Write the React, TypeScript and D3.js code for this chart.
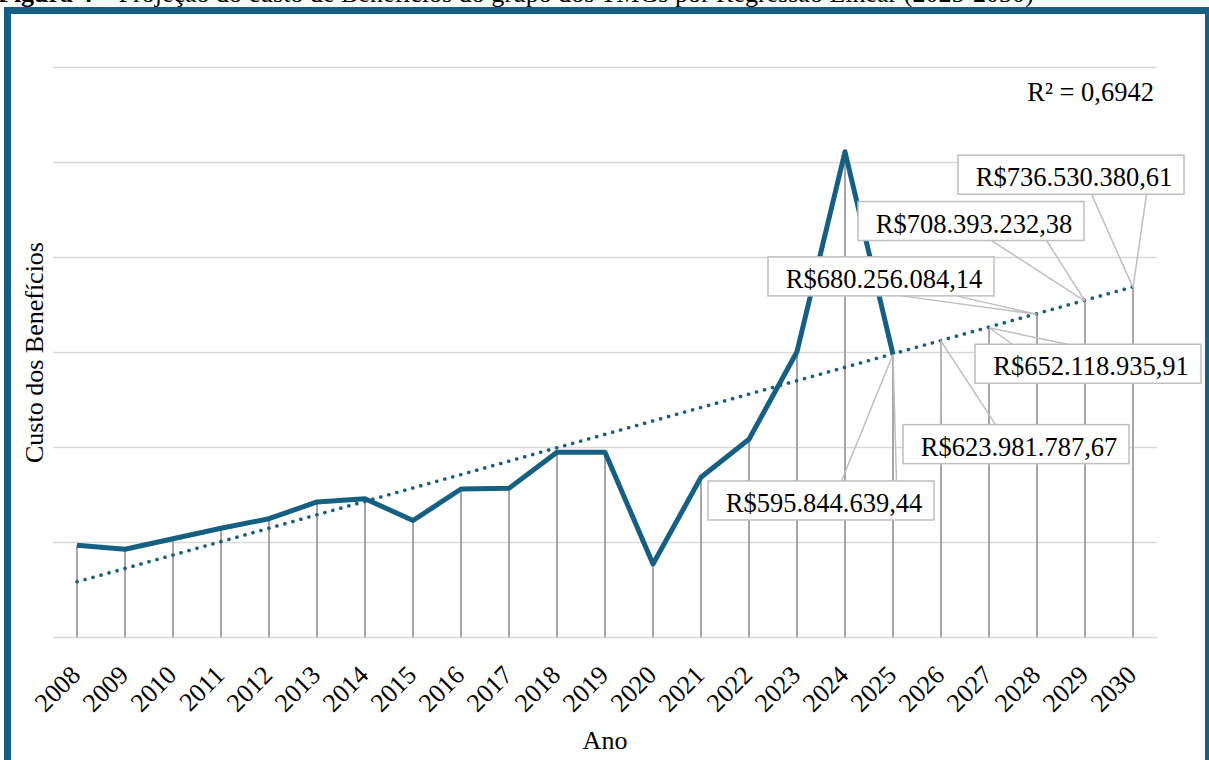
import React from 'react';
import * as d3 from 'd3';

const WIDTH = 1209;
const HEIGHT = 760;
const PLOT = { left: 53, right: 1157, top: 67.5, bottom: 637.5 };
const FONT = '"Liberation Serif", "Times New Roman", serif';
const BLUE = '#156082';

// categories
const YEARS = [
  '2008', '2009', '2010', '2011', '2012', '2013', '2014', '2015', '2016', '2017', '2018',
  '2019', '2020', '2021', '2022', '2023', '2024', '2025', '2026', '2027', '2028', '2029', '2030',
];

const ACTUAL_YEARS = [
  '2008', '2009', '2010', '2011', '2012', '2013', '2014', '2015', '2016',
  '2017', '2018', '2019', '2020', '2021', '2022', '2023', '2024', '2025',
];
const ACTUAL_COST = [
  194.1e6, 185.7e6, 208.0e6, 229.9e6, 250.1e6, 285.3e6, 292.2e6, 246.3e6, 312.6e6,
  314.1e6, 389.9e6, 389.9e6, 154.7e6, 337.3e6, 417.3e6, 601.7e6, 1022.7e6, 596.0e6,
];

// projected values shown as labels
const FORECAST_YEARS = ['2025', '2026', '2027', '2028', '2029', '2030'];
const FORECAST_COST = [
  595844639.44, 623981787.67, 652118935.91, 680256084.14, 708393232.38, 736530380.61,
];

const Y_TICKS = [0, 200e6, 400e6, 600e6, 800e6, 1000e6, 1200e6];
const R2_TEXT = 'R² = 0,6942';
const TITLE_BOLD = 'Figura 4';
const TITLE_REST = ' – Projeção do custo de Benefícios do grupo dos TMGs por Regressão Linear (2025-2030)';

// box centre offsets from the labelled point
const LABEL_OFFSETS = [
  [-72, 146], [75, 103], [99, 36], [-156, -38], [-114, -80], [-62, -113],
];
const BOX_W = 226;
const BOX_H = 39;

const brl = d3.formatLocale({
  decimal: ',',
  thousands: '.',
  grouping: [3],
  currency: ['R$', ''],
}).format('$,.2f');

const App = () => {
  const x = d3.scaleBand().domain(YEARS).range([PLOT.left, PLOT.right]).padding(0);
  const cx = (yr: string) => (x(yr) ?? 0) + x.bandwidth() / 2;
  const y = d3.scaleLinear().domain([0, 1200e6]).range([PLOT.bottom, PLOT.top]);

  // least squares trend over observed years
  const idx = ACTUAL_YEARS.map((yr) => YEARS.indexOf(yr));
  const mx = d3.mean(idx) as number;
  const my = d3.mean(ACTUAL_COST) as number;
  const slope =
    d3.sum(idx, (v, i) => (v - mx) * (ACTUAL_COST[i] - my)) / d3.sum(idx, (v) => (v - mx) ** 2);
  const trendAt = (i: number) => my + slope * (i - mx);
  const trendPts: [number, number][] = [0, YEARS.length - 1].map((i) => [cx(YEARS[i]), y(trendAt(i))]);

  const line = d3
    .line<number>()
    .x((_, i) => cx(ACTUAL_YEARS[i]))
    .y((d) => y(d));

  const dropTop = YEARS.map((yr) => {
    const vals: number[] = [];
    const a = ACTUAL_YEARS.indexOf(yr);
    if (a >= 0) vals.push(ACTUAL_COST[a]);
    const f = FORECAST_YEARS.indexOf(yr);
    if (f >= 0) vals.push(FORECAST_COST[f]);
    return d3.max(vals) ?? 0;
  });

  const labels = FORECAST_YEARS.map((yr, i) => {
    const px = cx(yr);
    const py = y(FORECAST_COST[i]);
    const bx = px + LABEL_OFFSETS[i][0];
    const by = py + LABEL_OFFSETS[i][1];
    const left = bx - BOX_W / 2;
    const right = bx + BOX_W / 2;
    const edge = by > py ? by - BOX_H / 2 : by + BOX_H / 2;
    const base = Math.max(left + 65, Math.min(right - 65, px));
    const leader = `M${base - 27.5},${edge}L${px},${py}L${base + 27.5},${edge}`;
    return { yr, px, py, bx, by, left, leader, text: brl(FORECAST_COST[i]) };
  });

  return (
    <svg
      width={WIDTH}
      height={HEIGHT}
      style={{ position: 'absolute', left: 0, top: 0, background: '#fff' }}
      fontFamily={FONT}
    >
      <text x={-2} y={2} fontSize={26} fill="#000">
        <tspan fontWeight="bold">{TITLE_BOLD}</tspan>
        <tspan>{TITLE_REST}</tspan>
      </text>
      <rect x={7.5} y={10.5} width={1201} height={770} fill="#fff" stroke={BLUE} strokeWidth={7} />

      {Y_TICKS.map((t) => (
        <line key={t} x1={PLOT.left} x2={PLOT.right} y1={y(t)} y2={y(t)} stroke="#d9d9d9" strokeWidth={1.5} />
      ))}

      {YEARS.map((yr, i) => (
        <line
          key={yr}
          x1={cx(yr)}
          x2={cx(yr)}
          y1={y(dropTop[i])}
          y2={y(0)}
          stroke="#a6a6a6"
          strokeWidth={2}
        />
      ))}

      <path d={line(ACTUAL_COST) ?? ''} fill="none" stroke={BLUE} strokeWidth={5} strokeLinejoin="round" />
      <path
        d={d3.line()(trendPts) ?? ''}
        fill="none"
        stroke={BLUE}
        strokeWidth={3.6}
        strokeLinecap="round"
        strokeDasharray="0.1 8.2"
      />

      {labels.map((l) => (
        <g key={l.yr}>
          <path d={l.leader} fill="none" stroke="#bfbfbf" strokeWidth={1.5} />
          <rect
            x={l.left}
            y={l.by - BOX_H / 2}
            width={BOX_W}
            height={BOX_H}
            fill="#fff"
            stroke="#bfbfbf"
            strokeWidth={1.5}
          />
          <text x={l.bx + 3} y={l.by + 11.5} textAnchor="middle" fontSize={26.5} fill="#000">
            {l.text}
          </text>
        </g>
      ))}

      <text x={1154} y={101} textAnchor="end" fontSize={26.5} fill="#000">
        {R2_TEXT}
      </text>

      {YEARS.map((yr) => (
        <text
          key={yr}
          transform={`translate(${cx(yr) + 5},${PLOT.bottom + 39}) rotate(-45)`}
          textAnchor="end"
          fontSize={26}
          fill="#000"
        >
          {yr}
        </text>
      ))}

      <text x={(PLOT.left + PLOT.right) / 2} y={749} textAnchor="middle" fontSize={26} fill="#000">
        Ano
      </text>
      <text
        transform={`translate(43,${(PLOT.top + PLOT.bottom) / 2}) rotate(-90)`}
        textAnchor="middle"
        fontSize={26}
        fill="#000"
      >
        Custo dos Benefícios
      </text>
    </svg>
  );
};

export default App;
